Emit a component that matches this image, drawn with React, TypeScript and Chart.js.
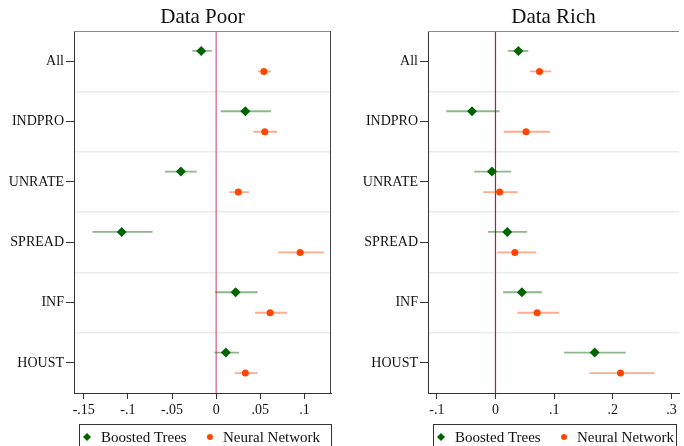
import { useEffect, useRef } from "react"
import Chart from "chart.js/auto"

const categories = ["All", "INDPRO", "UNRATE", "SPREAD", "INF", "HOUST"]
const seriesNames = ["Boosted Trees", "Neural Network"]

// Data Poor panel
const poorTreesEst = [-0.017, 0.033, -0.040, -0.107, 0.022, 0.011]
const poorTreesLo = [-0.027, 0.005, -0.058, -0.140, -0.001, -0.002]
const poorTreesHi = [-0.005, 0.062, -0.022, -0.072, 0.047, 0.026]
const poorNetEst = [0.054, 0.055, 0.025, 0.095, 0.061, 0.033]
const poorNetLo = [0.047, 0.042, 0.015, 0.070, 0.044, 0.021]
const poorNetHi = [0.062, 0.069, 0.037, 0.122, 0.080, 0.047]
const poorTicks = [-0.15, -0.1, -0.05, 0, 0.05, 0.1]
const poorTickLabels = ["-.15", "-.1", "-.05", "0", ".05", ".1"]

// Data Rich panel
const richTreesEst = [0.039, -0.040, -0.006, 0.020, 0.045, 0.169]
const richTreesLo = [0.021, -0.084, -0.036, -0.013, 0.013, 0.117]
const richTreesHi = [0.056, 0.007, 0.027, 0.054, 0.079, 0.222]
const richNetEst = [0.075, 0.052, 0.007, 0.033, 0.071, 0.213]
const richNetLo = [0.059, 0.014, -0.021, 0.003, 0.037, 0.160]
const richNetHi = [0.095, 0.093, 0.038, 0.069, 0.108, 0.271]
const richTicks = [-0.1, 0, 0.1, 0.2, 0.3]
const richTickLabels = ["-.1", "0", ".1", ".2", ".3"]

const FONT = "'Liberation Serif', 'Times New Roman', serif"
const GREEN = "#006400"
const GREEN_BAR = "rgba(0,100,0,0.45)"
const ORANGE = "#ff4500"
const ORANGE_BAR = "rgba(255,69,0,0.45)"
const SHIFT = 0.17

type PanelProps = {
  title: string
  treesEst: number[]; treesLo: number[]; treesHi: number[]
  netEst: number[]; netLo: number[]; netHi: number[]
  ticks: number[]; tickLabels: string[]
  xMin: number; xMax: number
  zeroColor: string; zeroWidth: number
  axisWidth: number; padRight: number; rightBorder: boolean
}

function errorBars(lo: number[], hi: number[], offset: number) {
  const pts: any[] = []
  lo.forEach((l, i) => {
    pts.push({ x: l, y: i + offset }, { x: hi[i], y: i + offset }, { x: null, y: null })
  })
  return pts
}

const panelDecor = {
  id: "panelDecor",
  afterDraw(chart: any, _args: any, opts: any) {
    const { ctx, chartArea } = chart
    const { left, right, top, bottom } = chartArea
    ctx.save()
    // frame top / right
    ctx.lineWidth = 1
    ctx.strokeStyle = "#8a8a8a"
    ctx.beginPath()
    ctx.moveTo(left, top + 0.5)
    ctx.lineTo(right, top + 0.5)
    ctx.stroke()
    if (opts.rightBorder) {
      ctx.strokeStyle = "#444"
      ctx.beginPath()
      ctx.moveTo(right - 0.5, top)
      ctx.lineTo(right - 0.5, bottom)
      ctx.stroke()
    }
    // title
    ctx.fillStyle = "#111"
    ctx.font = `21px ${FONT}`
    ctx.textAlign = "center"
    ctx.textBaseline = "middle"
    ctx.fillText(opts.title, (left + right) / 2, top - 14)
    // legend box
    const bx = left + 5
    const bw = right - bx - (opts.rightBorder ? 0 : 3)
    const by = bottom + 31
    ctx.strokeStyle = "#333"
    ctx.strokeRect(bx + 0.5, by + 0.5, bw, 40)
    const cy = by + 13
    ctx.fillStyle = GREEN
    ctx.beginPath()
    ctx.moveTo(bx + 8, cy - 4)
    ctx.lineTo(bx + 12, cy)
    ctx.lineTo(bx + 8, cy + 4)
    ctx.lineTo(bx + 4, cy)
    ctx.closePath()
    ctx.fill()
    ctx.fillStyle = ORANGE
    ctx.beginPath()
    ctx.arc(bx + 131, cy, 3, 0, Math.PI * 2)
    ctx.fill()
    ctx.fillStyle = "#111"
    ctx.font = `15px ${FONT}`
    ctx.textAlign = "left"
    ctx.fillText(seriesNames[0], bx + 22, cy + 1)
    ctx.fillText(seriesNames[1], bx + 144, cy + 1)
    ctx.restore()
  },
}

function Panel(p: PanelProps) {
  const ref = useRef<HTMLCanvasElement>(null)

  useEffect(() => {
    if (!ref.current) return
    const chart = new Chart(ref.current, {
      type: "scatter",
      data: {
        datasets: [
          {
            label: seriesNames[0],
            data: p.treesEst.map((v, i) => ({ x: v, y: i - SHIFT })),
            pointStyle: "rectRot",
            pointRadius: 5,
            backgroundColor: GREEN,
            borderColor: GREEN,
            borderWidth: 0,
          },
          {
            label: seriesNames[1],
            data: p.netEst.map((v, i) => ({ x: v, y: i + SHIFT })),
            pointStyle: "circle",
            pointRadius: 3.5,
            backgroundColor: ORANGE,
            borderColor: ORANGE,
            borderWidth: 0,
          },
          {
            label: "trees ci",
            data: errorBars(p.treesLo, p.treesHi, -SHIFT),
            showLine: true,
            spanGaps: false,
            pointRadius: 0,
            borderColor: GREEN_BAR,
            borderWidth: 1.8,
          },
          {
            label: "net ci",
            data: errorBars(p.netLo, p.netHi, SHIFT),
            showLine: true,
            spanGaps: false,
            pointRadius: 0,
            borderColor: ORANGE_BAR,
            borderWidth: 1.8,
          },
          {
            label: "zero",
            data: [{ x: 0, y: -0.5 }, { x: 0, y: 5.5 }],
            showLine: true,
            pointRadius: 0,
            borderColor: p.zeroColor,
            borderWidth: p.zeroWidth,
          },
        ] as any,
      },
      options: {
        animation: false,
        responsive: false,
        layout: { padding: { top: 31, bottom: 23, left: 0, right: p.padRight } },
        font: { family: FONT },
        plugins: {
          legend: { display: false },
          title: { display: false },
          tooltip: { enabled: false },
          panelDecor: { title: p.title, rightBorder: p.rightBorder },
        } as any,
        scales: {
          x: {
            type: "linear",
            min: p.xMin,
            max: p.xMax,
            afterBuildTicks: (s: any) => { s.ticks = p.ticks.map((v) => ({ value: v })) },
            afterFit: (s: any) => { s.height = 30 },
            grid: { drawOnChartArea: false, drawTicks: true, tickLength: 6, tickColor: "#333" },
            border: { color: "#333", width: 1 },
            ticks: {
              color: "#111",
              padding: 3,
              maxRotation: 0,
              autoSkip: false,
              font: { family: FONT, size: 14 },
              callback: (v: any) => {
                const i = p.ticks.findIndex((t) => Math.abs(t - v) < 1e-9)
                return i >= 0 ? p.tickLabels[i] : ""
              },
            },
          },
          y: {
            type: "linear",
            reverse: true,
            min: -0.5,
            max: 5.5,
            afterBuildTicks: (s: any) => { s.ticks = categories.map((_, i) => ({ value: i })) },
            afterFit: (s: any) => { s.width = p.axisWidth },
            grid: { drawOnChartArea: false, drawTicks: true, tickLength: 8, tickColor: "#333" },
            border: { color: "#333", width: 1 },
            ticks: {
              color: "#111",
              padding: 2,
              autoSkip: false,
              font: { family: FONT, size: 14 },
              callback: (v: any) => categories[v] ?? "",
            },
          },
          y2: {
            type: "linear",
            position: "right",
            reverse: true,
            min: -0.5,
            max: 5.5,
            afterBuildTicks: (s: any) => { s.ticks = categories.slice(1).map((_, i) => ({ value: i + 0.5 })) },
            afterFit: (s: any) => { s.width = 0 },
            grid: { drawTicks: false, color: "rgba(0,0,0,0.08)", lineWidth: 1.5 },
            border: { display: false },
            ticks: { display: false },
          },
        },
      },
      plugins: [panelDecor],
    } as any)
    return () => chart.destroy()
  }, [p])

  return <canvas ref={ref} width={342} height={446} style={{ display: "block" }} />
}

const poorProps: PanelProps = {
  title: "Data Poor",
  treesEst: poorTreesEst, treesLo: poorTreesLo, treesHi: poorTreesHi,
  netEst: poorNetEst, netLo: poorNetLo, netHi: poorNetHi,
  ticks: poorTicks, tickLabels: poorTickLabels,
  xMin: -0.161, xMax: 0.130,
  zeroColor: "#e07aa0", zeroWidth: 1.5,
  axisWidth: 74, padRight: 11, rightBorder: true,
}

const richProps: PanelProps = {
  title: "Data Rich",
  treesEst: richTreesEst, treesLo: richTreesLo, treesHi: richTreesHi,
  netEst: richNetEst, netLo: richNetLo, netHi: richNetHi,
  ticks: richTicks, tickLabels: richTickLabels,
  xMin: -0.115, xMax: 0.3127,
  zeroColor: "#a3203f", zeroWidth: 1.2,
  axisWidth: 86, padRight: 0, rightBorder: false,
}

export default function App() {
  return (
    <div style={{ position: "fixed", left: 0, top: 0, width: 684, height: 446, display: "flex", background: "#fff", overflow: "hidden" }}>
      <Panel {...poorProps} />
      <Panel {...richProps} />
    </div>
  )
}
